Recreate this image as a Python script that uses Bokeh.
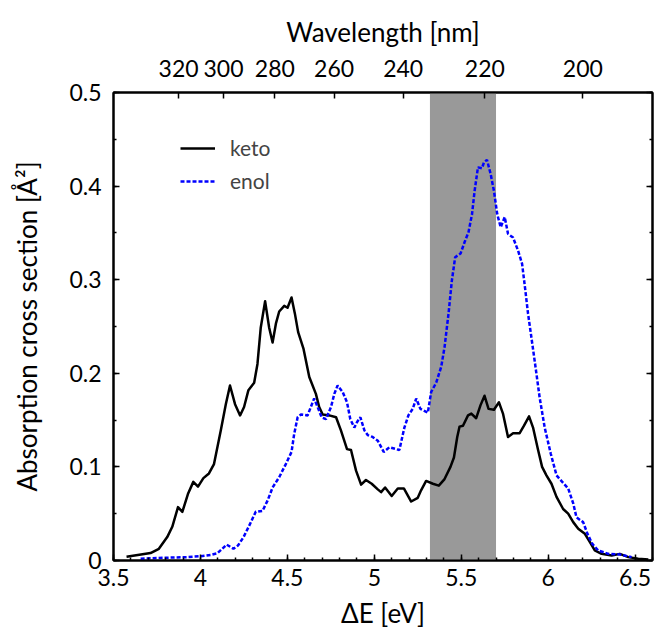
from bokeh.plotting import figure
from bokeh.models import (LinearAxis, FixedTicker, SingleIntervalTicker, BoxAnnotation,
                          Legend, LegendItem, Range1d, NumeralTickFormatter, CustomJSTickFormatter)
from bokeh.embed import file_html
from bokeh.resources import INLINE

# ---- data ----
keto_E = [3.575, 3.713, 3.761, 3.809, 3.838, 3.871, 3.896, 3.928, 3.959, 3.986, 4.017, 4.049,
          4.078, 4.117, 4.146, 4.170, 4.199, 4.228, 4.251, 4.276, 4.309, 4.328, 4.347, 4.372,
          4.395, 4.415, 4.434, 4.453, 4.482, 4.501, 4.524, 4.543, 4.562, 4.593, 4.626, 4.664,
          4.683, 4.703, 4.741, 4.780, 4.808, 4.843, 4.866, 4.895, 4.924, 4.952, 4.985, 5.020,
          5.039, 5.062, 5.100, 5.135, 5.170, 5.212, 5.250, 5.269, 5.298, 5.337, 5.371, 5.404,
          5.438, 5.458, 5.477, 5.490, 5.510, 5.539, 5.558, 5.586, 5.611, 5.634, 5.657, 5.688,
          5.717, 5.740, 5.769, 5.798, 5.836, 5.861, 5.890, 5.913, 5.942, 5.965, 5.990, 6.019,
          6.048, 6.086, 6.115, 6.144, 6.173, 6.211, 6.240, 6.268, 6.307, 6.365, 6.412, 6.461,
          6.518, 6.576]
keto_sigma = [0.004, 0.008, 0.0125, 0.025, 0.036, 0.057, 0.052, 0.071, 0.084, 0.079, 0.088, 0.093,
              0.103, 0.139, 0.167, 0.187, 0.167, 0.155, 0.164, 0.182, 0.190, 0.210, 0.249, 0.277,
              0.249, 0.233, 0.253, 0.266, 0.272, 0.270, 0.281, 0.264, 0.244, 0.226, 0.196, 0.178,
              0.164, 0.156, 0.155, 0.153, 0.139, 0.119, 0.118, 0.096, 0.081, 0.086, 0.082, 0.076,
              0.073, 0.078, 0.069, 0.077, 0.077, 0.063, 0.067, 0.075, 0.085, 0.082, 0.080, 0.087,
              0.100, 0.110, 0.132, 0.143, 0.144, 0.155, 0.157, 0.152, 0.166, 0.176, 0.162, 0.161,
              0.169, 0.157, 0.132, 0.136, 0.136, 0.144, 0.154, 0.142, 0.118, 0.100, 0.091, 0.082,
              0.068, 0.055, 0.050, 0.041, 0.034, 0.0285, 0.0196, 0.0107, 0.0071, 0.0053, 0.0071, 0.0036,
              0.0018, 0.001]

enol_E = [3.656, 3.809, 3.925, 4.001, 4.059, 4.098, 4.151, 4.190, 4.216, 4.248, 4.280, 4.318,
          4.357, 4.386, 4.415, 4.453, 4.491, 4.524, 4.539, 4.559, 4.578, 4.616, 4.635, 4.654,
          4.674, 4.697, 4.722, 4.751, 4.770, 4.789, 4.818, 4.843, 4.862, 4.885, 4.901, 4.920,
          4.943, 4.962, 4.990, 5.020, 5.054, 5.087, 5.144, 5.173, 5.196, 5.221, 5.241, 5.265,
          5.308, 5.327, 5.356, 5.385, 5.404, 5.427, 5.446, 5.465, 5.496, 5.519, 5.542, 5.562,
          5.577, 5.596, 5.619, 5.631, 5.648, 5.669, 5.688, 5.707, 5.727, 5.750, 5.769, 5.798,
          5.827, 5.850, 5.869, 5.884, 5.903, 5.927, 5.951, 5.980, 6.015, 6.048, 6.076, 6.115,
          6.144, 6.163, 6.201, 6.226, 6.253, 6.288, 6.346, 6.412, 6.480]
enol_sigma = [0.002, 0.003, 0.0036, 0.0046, 0.006, 0.0078, 0.017, 0.0125, 0.016, 0.025, 0.037, 0.052,
              0.053, 0.064, 0.078, 0.089, 0.103, 0.116, 0.135, 0.153, 0.156, 0.155, 0.164, 0.173,
              0.164, 0.153, 0.151, 0.164, 0.178, 0.187, 0.180, 0.169, 0.151, 0.142, 0.148, 0.153,
              0.139, 0.134, 0.132, 0.128, 0.116, 0.121, 0.118, 0.142, 0.155, 0.162, 0.173, 0.162,
              0.158, 0.180, 0.190, 0.207, 0.228, 0.264, 0.299, 0.324, 0.328, 0.340, 0.351, 0.370,
              0.395, 0.420, 0.419, 0.4255, 0.428, 0.413, 0.395, 0.370, 0.356, 0.367, 0.349, 0.345,
              0.331, 0.317, 0.288, 0.264, 0.239, 0.207, 0.174, 0.142, 0.114, 0.091, 0.085, 0.077,
              0.061, 0.046, 0.041, 0.0285, 0.018, 0.0107, 0.0071, 0.0064, 0.0036]

wavelength_ticks_nm = [320, 300, 280, 260, 240, 220, 200]
band_E = [5.32, 5.70]
HC_EV_NM = 1239.84

FONT = "Lato"
TICK_SIZE = "23px"
LABEL_SIZE = "26px"

p = figure(frame_width=539, frame_height=468, output_backend="svg", toolbar_location=None,
           x_range=Range1d(3.5, 6.6), y_range=Range1d(0, 0.5),
           x_axis_label="ΔE [eV]", y_axis_label="Absorption cross section [Å²]",
           min_border_left=113, min_border_top=92, min_border_right=5, min_border_bottom=72)
p.grid.visible = False
p.outline_line_color = "black"
p.outline_line_width = 2
p.background_fill_color = "white"
p.border_fill_color = "white"

# shaded band
p.add_layout(BoxAnnotation(left=band_E[0], right=band_E[1], fill_color="#999999",
                           fill_alpha=1.0, line_color=None, level="underlay"))

def style_axis(ax):
    ax.axis_line_width = 2
    ax.axis_line_color = "black"
    ax.major_tick_line_width = 1.5
    ax.minor_tick_line_width = 1.5
    ax.major_tick_in = 6
    ax.major_tick_out = 0
    ax.minor_tick_in = 3
    ax.minor_tick_out = 0
    ax.major_label_text_font = FONT
    ax.major_label_text_font_size = TICK_SIZE
    ax.major_label_text_color = "black"
    ax.axis_label_text_font = FONT
    ax.axis_label_text_font_size = LABEL_SIZE
    ax.axis_label_text_font_style = "normal"
    ax.axis_label_text_color = "black"

xa = p.xaxis[0]
xa.ticker = SingleIntervalTicker(interval=0.5, num_minor_ticks=5)
xa.formatter = NumeralTickFormatter(format="0.[0]")
style_axis(xa)
xa.major_label_standoff = 8
xa.axis_label_standoff = 8

ya = p.yaxis[0]
ya.ticker = SingleIntervalTicker(interval=0.1, num_minor_ticks=2)
ya.formatter = NumeralTickFormatter(format="0.[0]")
style_axis(ya)
ya.major_label_standoff = 12
ya.axis_label_standoff = 23

# right mirror axis (ticks only)
ra = LinearAxis(ticker=SingleIntervalTicker(interval=0.1, num_minor_ticks=2),
                formatter=CustomJSTickFormatter(code="return '';"))
style_axis(ra)
ra.major_label_standoff = 0
p.add_layout(ra, "right")

# top wavelength axis
ta = LinearAxis(ticker=FixedTicker(ticks=[HC_EV_NM / w for w in wavelength_ticks_nm]),
                formatter=CustomJSTickFormatter(code="return (1239.84/tick).toFixed(0);"),
                axis_label="Wavelength [nm]")
style_axis(ta)
ta.minor_tick_in = 0
ta.major_label_standoff = 16
ta.axis_label_standoff = 9
p.add_layout(ta, "above")

r_keto = p.line(keto_E, keto_sigma, line_color="black", line_width=2.5, line_join="round")
r_enol = p.line(enol_E, enol_sigma, line_color="#0000ff", line_width=2.5, line_dash="4 2")

legend = Legend(items=[LegendItem(label="keto", renderers=[r_keto]),
                       LegendItem(label="enol", renderers=[r_enol])],
                location=(67, 367), padding=0, margin=0, spacing=8,
                glyph_width=35, glyph_height=20, label_height=20, label_standoff=15,
                label_text_font=FONT, label_text_font_size="21px",
                border_line_color=None, background_fill_alpha=0)
p.add_layout(legend)

open("out.html", "w").write(file_html(p, INLINE))
